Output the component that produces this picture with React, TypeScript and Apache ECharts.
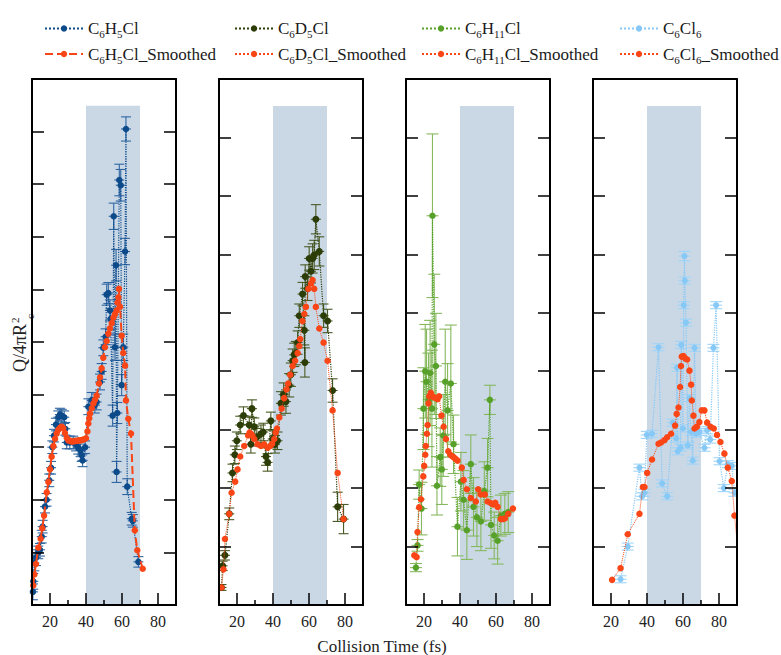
import React, { useEffect, useRef } from 'react';
import * as echarts from 'echarts';

const FONT = '"Liberation Serif", "Times New Roman", serif';

// ---------- tick labels / ranges ----------
const xTickLabels = [20, 40, 60, 80];
const xMinorTicks = [30, 50, 70];
const bandRange = [40, 70];

// ---------- series names ----------
const namesH5 = ['C6H5Cl', 'C6H5Cl_Smoothed'];
const namesD5 = ['C6D5Cl', 'C6D5Cl_Smoothed'];
const namesH11 = ['C6H11Cl', 'C6H11Cl_Smoothed'];
const namesCl6 = ['C6Cl6', 'C6Cl6_Smoothed'];

// ---------- data: [time, Q/4piRc^2, error] ----------
const h5 = [
  [10.5, 0.25, 0.15], [10.7, 0.45, 0.15], [11.3, 0.8, 0.15], [12.2, 0.9, 0.15], [13.5, 1.0, 0.12],
  [14.4, 1.05, 0.12], [15.4, 1.3, 0.12], [15.9, 1.49, 0.12], [17.2, 1.87, 0.12], [18.1, 2.0, 0.12],
  [19.6, 2.37, 0.12], [20.6, 2.61, 0.12], [21.3, 3.0, 0.12], [22.2, 3.22, 0.12], [23.3, 3.43, 0.12],
  [24.6, 3.57, 0.12], [25.5, 3.62, 0.12], [26.5, 3.6, 0.12], [27.9, 3.57, 0.12], [28.5, 3.35, 0.12],
  [29.3, 3.09, 0.12], [31.0, 3.09, 0.12], [32.9, 3.09, 0.12], [34.5, 3.05, 0.12], [35.7, 2.99, 0.12],
  [37.0, 2.94, 0.12], [37.6, 2.85, 0.12], [38.1, 2.75, 0.12], [39.5, 3.0, 0.12], [41.3, 3.77, 0.15],
  [43.2, 3.89, 0.15], [44.9, 3.8, 0.15], [45.9, 3.86, 0.15], [47.8, 4.24, 0.15], [48.7, 4.44, 0.15],
  [49.6, 4.89, 0.15], [50.9, 5.1, 0.15], [51.5, 5.9, 0.2], [52.4, 5.93, 0.2], [53.3, 5.6, 0.2],
  [53.7, 5.44, 0.2], [54.8, 3.6, 0.2], [55.4, 7.39, 0.25], [56.1, 4.9, 0.25], [56.7, 6.46, 0.3],
  [57.0, 2.53, 0.2], [57.4, 3.65, 0.2], [58.5, 8.08, 0.3], [59.3, 7.98, 0.3], [59.8, 4.18, 0.2],
  [60.7, 4.9, 0.25], [61.7, 6.72, 0.25], [62.2, 9.05, 0.23], [62.9, 2.25, 0.15], [65.4, 1.64, 0.12],
  [66.0, 1.6, 0.12], [69.1, 0.82, 0.1],
];
const h5Smoothed = [
  [10.7, 0.37], [11.3, 0.58], [12.2, 0.78], [13.5, 1.09], [14.8, 1.26], [15.7, 1.46], [16.7, 1.7],
  [18.2, 2.14], [19.1, 2.34], [20.0, 2.58], [20.9, 2.82], [21.9, 3.02], [22.8, 3.16], [23.7, 3.26],
  [24.6, 3.33], [25.6, 3.37], [26.5, 3.39], [27.4, 3.36], [28.3, 3.27], [29.3, 3.18], [30.2, 3.13],
  [31.1, 3.12], [32.0, 3.11], [33.0, 3.11], [34.0, 3.12], [35.0, 3.12], [36.0, 3.13], [37.0, 3.13],
  [38.0, 3.14], [39.0, 3.15], [40.0, 3.17], [40.8, 3.3], [41.3, 3.45], [41.8, 3.55], [42.2, 3.64],
  [43.2, 3.74], [44.1, 3.83], [45.0, 3.9], [45.9, 3.98], [47.2, 4.21], [47.8, 4.33], [48.7, 4.5],
  [49.6, 4.7], [50.5, 4.9], [51.5, 5.02], [52.4, 5.16], [53.3, 5.26], [54.3, 5.36], [55.2, 5.46],
  [56.1, 5.53], [57.0, 5.6], [57.5, 5.75], [58.0, 5.85], [58.3, 6.01], [58.9, 5.67], [59.8, 5.12],
  [60.7, 4.79], [61.7, 4.55], [62.2, 3.89], [63.5, 3.54], [65.0, 3.26], [67.1, 1.42], [68.5, 1.04],
  [71.5, 0.69],
];

const d5 = [
  [11.4, 0.3, 0.05], [12.0, 0.67, 0.08], [13.3, 0.85, 0.08], [15.7, 1.56, 0.1], [17.5, 2.26, 0.15],
  [18.8, 2.57, 0.15], [19.9, 2.81, 0.15], [21.8, 3.08, 0.15], [23.6, 3.24, 0.15], [26.8, 3.08, 0.15],
  [27.7, 2.75, 0.15], [28.3, 3.36, 0.15], [29.6, 3.05, 0.15], [31.0, 2.87, 0.15], [33.3, 2.93, 0.15],
  [34.6, 2.96, 0.15], [36.1, 2.54, 0.15], [37.0, 2.44, 0.15], [38.8, 3.15, 0.15], [39.8, 2.84, 0.15],
  [41.1, 2.75, 0.15], [42.5, 2.81, 0.15], [44.4, 3.45, 0.2], [45.9, 3.6, 0.2], [47.2, 3.48, 0.2],
  [49.0, 3.76, 0.2], [49.9, 3.94, 0.2], [50.9, 4.18, 0.2], [51.8, 4.28, 0.2], [52.7, 4.31, 0.2],
  [53.7, 4.49, 0.2], [54.6, 4.95, 0.2], [56.4, 5.32, 0.2], [57.4, 4.7, 0.25], [57.7, 4.15, 0.25],
  [57.9, 5.62, 0.2], [59.2, 5.41, 0.2], [60.1, 5.93, 0.2], [61.1, 5.71, 0.2], [62.0, 5.93, 0.25],
  [62.9, 5.99, 0.25], [63.8, 6.6, 0.25], [65.7, 6.05, 0.25], [68.1, 4.95, 0.2], [70.3, 4.86, 0.2],
  [73.1, 3.67, 0.2], [75.9, 1.68, 0.25], [79.2, 1.47, 0.25],
];
const d5Smoothed = [
  [11.4, 0.3], [12.5, 0.61], [13.3, 1.13], [15.7, 1.56], [17.0, 1.92], [19.0, 2.11], [20.3, 2.32],
  [21.8, 2.54], [24.0, 2.72], [26.2, 2.9], [27.0, 2.95], [27.7, 2.93], [28.5, 2.9], [29.6, 2.84],
  [31.4, 2.75], [33.3, 2.72], [35.1, 2.75], [37.0, 2.69], [38.5, 2.72], [39.5, 2.76], [40.7, 2.84],
  [41.5, 2.95], [42.2, 3.02], [43.5, 3.21], [44.8, 3.36], [46.2, 3.54], [47.5, 3.69], [48.4, 3.79],
  [49.6, 3.94], [50.9, 4.09], [52.3, 4.18], [53.7, 4.31], [54.6, 4.43], [55.1, 4.55], [56.4, 4.86],
  [57.4, 4.98], [58.3, 5.1], [59.6, 5.41], [61.1, 5.5], [62.0, 5.56], [62.9, 5.41], [63.8, 5.1],
  [65.7, 4.73], [68.1, 4.49], [70.3, 4.18], [73.1, 3.33], [75.9, 2.26], [79.2, 1.47],
];

const h11 = [
  [15.5, 0.64, 0.07], [16.4, 1.02, 0.1], [17.3, 2.06, 0.25], [18.6, 1.65, 0.45], [19.7, 3.36, 0.7],
  [20.7, 4.0, 0.8], [21.4, 3.82, 0.9], [22.5, 3.51, 0.8], [23.4, 3.97, 0.9], [24.4, 3.36, 1.0],
  [24.7, 6.66, 1.4], [25.7, 4.46, 1.2], [26.6, 4.09, 0.9], [27.2, 2.04, 0.5], [29.0, 2.53, 0.5],
  [29.9, 2.32, 0.6], [30.7, 2.9, 0.7], [31.8, 3.82, 0.9], [33.1, 3.33, 0.8], [34.9, 3.79, 1.0],
  [36.4, 2.75, 0.5], [38.6, 1.34, 0.5], [40.5, 2.11, 0.5], [42.0, 1.8, 0.5], [43.8, 1.28, 0.5],
  [46.0, 2.41, 0.5], [47.5, 1.68, 0.5], [49.4, 1.5, 0.5], [51.6, 1.43, 0.5], [53.5, 1.95, 0.5],
  [55.3, 2.35, 0.5], [56.6, 3.51, 0.25], [57.2, 1.37, 0.4], [59.0, 1.19, 0.4], [60.9, 1.1, 0.4],
  [62.7, 1.53, 0.35], [64.9, 1.56, 0.35], [66.8, 1.59, 0.35],
];
const h11Smoothed = [
  [14.6, 0.85], [15.9, 0.82], [16.4, 1.25], [17.3, 1.67], [18.3, 1.81], [19.6, 2.2], [20.1, 2.38],
  [20.7, 2.57], [21.0, 2.72], [21.6, 2.93], [22.0, 3.08], [22.5, 3.45], [22.9, 3.57], [23.8, 3.63],
  [24.7, 3.57], [25.6, 3.55], [26.6, 3.54], [27.5, 3.52], [28.4, 3.57], [29.7, 3.24], [30.9, 3.05],
  [32.2, 2.84], [33.5, 2.63], [34.6, 2.57], [35.5, 2.55], [36.4, 2.53], [37.5, 2.5], [38.6, 2.47],
  [41.0, 2.35], [42.0, 2.14], [43.8, 1.98], [46.0, 1.83], [48.8, 1.77], [50.1, 1.98], [51.6, 1.89],
  [53.8, 1.89], [55.3, 1.77], [57.2, 1.74], [58.5, 1.72], [59.6, 1.75], [60.9, 1.68], [62.7, 1.47],
  [63.8, 1.47], [64.9, 1.48], [66.8, 1.56], [69.4, 1.65],
];

const cl6 = [
  [25.3, 0.44, 0.06], [29.3, 1.0, 0.06], [35.8, 2.35, 0.06], [37.3, 1.86, 0.06], [38.6, 1.92, 0.06],
  [39.9, 2.91, 0.06], [42.8, 2.93, 0.06], [46.4, 4.41, 0.06], [48.4, 2.08, 0.06], [51.2, 1.86, 0.06],
  [54.3, 3.12, 0.06], [56.2, 2.85, 0.06], [56.7, 4.06, 0.06], [57.1, 2.63, 0.06], [58.6, 2.69, 0.06],
  [59.0, 4.45, 0.06], [59.9, 3.02, 0.06], [60.4, 5.13, 0.06], [60.8, 5.97, 0.08], [61.0, 5.55, 0.06],
  [61.7, 4.83, 0.06], [62.7, 2.73, 0.06], [63.6, 3.54, 0.06], [64.5, 2.96, 0.06], [65.4, 2.47, 0.06],
  [66.4, 4.4, 0.06], [67.3, 2.93, 0.06], [69.1, 2.96, 0.06], [71.9, 2.69, 0.06], [73.4, 2.99, 0.06],
  [75.1, 2.83, 0.06], [76.9, 4.4, 0.06], [78.4, 5.13, 0.06], [80.3, 2.46, 0.06], [82.7, 2.0, 0.06],
  [84.9, 2.41, 0.06], [87.1, 2.38, 0.06], [88.6, 1.92, 0.06],
];
const cl6Smoothed = [
  [20.6, 0.43], [25.3, 0.63], [29.3, 1.21], [35.8, 1.56], [37.7, 2.02], [38.6, 2.02], [40.1, 2.26],
  [42.8, 2.49], [46.4, 2.76], [47.8, 2.78], [49.7, 2.82], [51.2, 2.87], [53.4, 2.93], [55.6, 3.07],
  [56.5, 3.27], [57.5, 3.38], [58.4, 3.73], [58.9, 4.09], [59.3, 4.25], [60.3, 4.26], [61.2, 4.22],
  [62.3, 4.2], [63.6, 4.01], [64.5, 3.77], [64.9, 3.5], [65.8, 3.24], [66.4, 3.02], [67.7, 3.05],
  [69.1, 3.13], [70.4, 3.33], [71.9, 3.33], [73.4, 3.12], [75.3, 3.05], [77.1, 3.02], [78.9, 2.91],
  [80.8, 2.79], [83.0, 2.59], [84.9, 2.35], [87.1, 2.12], [88.6, 1.53], [91.0, 0.8],
];

// ---------- styles / layout ----------
const SMOOTH_COLOR = '#fa4616';
const panels = [
  { raw: h5, smooth: h5Smoothed, names: namesH5, color: '#0c4a8a', errColor: '#2f66a2', symbol: 'circle', size: 6.5, smoothType: 'dashed', smoothWidth: 2, yMax: 10, bandTop: 9.49, capPx: 5 },
  { raw: d5, smooth: d5Smoothed, names: namesD5, color: '#2c3d07', errColor: '#4a5a25', symbol: 'circle', size: 7, smoothType: 'dotted', smoothWidth: 1, yMax: 9, bandTop: 8.54, capPx: 5 },
  { raw: h11, smooth: h11Smoothed, names: namesH11, color: '#57a12b', errColor: '#86b95e', symbol: 'circle', size: 6.5, smoothType: 'dotted', smoothWidth: 1, yMax: 9, bandTop: 8.54, capPx: 6 },
  { raw: cl6, smooth: cl6Smoothed, names: namesCl6, color: '#86c8f6', errColor: '#9fd4f8', symbol: 'circle', size: 6, smoothType: 'dotted', smoothWidth: 1, yMax: 9, bandTop: 8.54, capPx: 6 },
];
const GRID_LEFTS = [32, 219, 406, 593];
const LEGEND_LEFTS = [39, 229, 416, 614];
const GRID_TOP = 79;
const GRID_W = 144;
const GRID_H = 526;

const fmtName = (name: string) =>
  name
    .split(/(\d+)/)
    .filter((p) => p.length > 0)
    .map((p) => (/^\d+$/.test(p) ? `{s|${p}}` : `{n|${p}}`))
    .join('');

function buildOption() {
  const grid: any[] = [];
  const xAxis: any[] = [];
  const yAxis: any[] = [];
  const series: any[] = [];
  const legend: any[] = [];

  panels.forEach((p, i) => {
    grid.push({ left: GRID_LEFTS[i], top: GRID_TOP, width: GRID_W, height: GRID_H, containLabel: false });
    const xi = xAxis.length;
    const yi = yAxis.length;
    xAxis.push({
      type: 'value', gridIndex: i, min: 10, max: 90, position: 'bottom', z: 10,
      axisLine: { show: true, onZero: false, lineStyle: { color: '#000', width: 2 } },
      axisTick: { show: true, inside: true, length: 12, customValues: xTickLabels, lineStyle: { color: '#000', width: 1.5 } },
      axisLabel: { show: true, customValues: xTickLabels, margin: 8, fontSize: 16, fontFamily: FONT, color: '#222' },
      splitLine: { show: false },
    });
    xAxis.push({
      type: 'value', gridIndex: i, min: 10, max: 90, position: 'bottom', z: 10,
      axisLine: { show: false, onZero: false },
      axisTick: { show: true, inside: true, length: 5, customValues: xMinorTicks, lineStyle: { color: '#000', width: 1.5 } },
      axisLabel: { show: false },
      splitLine: { show: false },
    });
    xAxis.push({
      type: 'value', gridIndex: i, min: 10, max: 90, position: 'top', z: 10,
      axisLine: { show: true, onZero: false, lineStyle: { color: '#000', width: 2 } },
      axisTick: { show: false }, axisLabel: { show: false }, splitLine: { show: false },
    });
    yAxis.push({
      type: 'value', gridIndex: i, min: 0, max: p.yMax, interval: 1, position: 'left', z: 10,
      axisLine: { show: true, onZero: false, lineStyle: { color: '#000', width: 2 } },
      axisTick: { show: true, inside: true, length: 12, lineStyle: { color: '#000', width: 1.5 } },
      axisLabel: { show: false }, splitLine: { show: false },
    });
    yAxis.push({
      type: 'value', gridIndex: i, min: 0, max: p.yMax, interval: 1, position: 'right', z: 10,
      axisLine: { show: true, onZero: false, lineStyle: { color: '#000', width: 2 } },
      axisTick: { show: true, inside: true, length: 12, lineStyle: { color: '#000', width: 1.5 } },
      axisLabel: { show: false }, splitLine: { show: false },
    });

    series.push({
      type: 'line', xAxisIndex: xi, yAxisIndex: yi, data: [], z: 1, silent: true,
      markArea: {
        silent: true,
        itemStyle: { color: '#cad8e6' },
        data: [[{ xAxis: bandRange[0], yAxis: 0 }, { xAxis: bandRange[1], yAxis: p.bandTop }]],
      },
    });

    const capPx = p.capPx;
    const errColor = p.errColor;
    series.push({
      type: 'custom', xAxisIndex: xi, yAxisIndex: yi, z: 2, silent: true, clip: true,
      data: p.raw,
      encode: { x: 0, y: 1 },
      renderItem: (_params: any, api: any) => {
        const x = api.value(0);
        const y = api.value(1);
        const e = api.value(2);
        const c = api.coord([x, y]);
        const t = api.coord([x, y + e]);
        const b = api.coord([x, y - e]);
        const style = { stroke: errColor, lineWidth: 1.1 };
        return {
          type: 'group',
          children: [
            { type: 'line', shape: { x1: c[0], y1: t[1], x2: c[0], y2: b[1] }, style },
            { type: 'line', shape: { x1: c[0] - capPx, y1: t[1], x2: c[0] + capPx, y2: t[1] }, style },
            { type: 'line', shape: { x1: c[0] - capPx, y1: b[1], x2: c[0] + capPx, y2: b[1] }, style },
            { type: 'line', shape: { x1: c[0] - capPx, y1: c[1], x2: c[0] + capPx, y2: c[1] }, style },
          ],
        };
      },
    });

    series.push({
      type: 'line', name: p.names[0], xAxisIndex: xi, yAxisIndex: yi, z: 3, clip: true,
      data: p.raw.map((d) => [d[0], d[1]]),
      symbol: p.symbol, symbolSize: p.size, showSymbol: true,
      itemStyle: { color: p.color },
      lineStyle: { color: p.color, width: 1.2, type: 'dotted' },
    });
    series.push({
      type: 'line', name: p.names[1], xAxisIndex: xi, yAxisIndex: yi, z: 4, clip: true,
      data: p.smooth,
      symbol: 'circle', symbolSize: 6.5, showSymbol: true,
      itemStyle: { color: SMOOTH_COLOR },
      lineStyle: { color: SMOOTH_COLOR, width: p.smoothWidth, type: p.smoothType },
    });

    legend.push({
      orient: 'vertical', left: LEGEND_LEFTS[i], top: 15,
      itemWidth: 38, itemHeight: 8, itemGap: 6, selectedMode: false,
      data: p.names,
      formatter: fmtName,
      textStyle: {
        fontSize: 17, fontFamily: FONT, color: '#1a1a1a',
        rich: {
          n: { fontSize: 17, fontFamily: FONT, color: '#1a1a1a', lineHeight: 22, verticalAlign: 'middle' },
          s: { fontSize: 11, fontFamily: FONT, color: '#1a1a1a', lineHeight: 10, verticalAlign: 'bottom' },
        },
      },
    });
  });

  return {
    animation: false,
    backgroundColor: '#ffffff',
    grid, xAxis, yAxis, series, legend,
    graphic: [
      {
        type: 'text', x: 382, y: 646,
        style: { text: 'Collision Time (fs)', fontSize: 17, fontFamily: FONT, fill: '#222', align: 'center', verticalAlign: 'middle' },
      },
      {
        type: 'group', x: 20, y: 344, rotation: Math.PI / 2,
        children: [
          { type: 'text', x: -28, y: 0, style: { text: 'Q/4πR', fontSize: 18, fontFamily: FONT, fill: '#222', align: 'left', verticalAlign: 'middle' } },
          { type: 'text', x: 21, y: -5, style: { text: '2', fontSize: 11, fontFamily: FONT, fill: '#222', align: 'left', verticalAlign: 'middle' } },
          { type: 'text', x: 25, y: 10, style: { text: 'c', fontSize: 11, fontFamily: FONT, fill: '#222', align: 'left', verticalAlign: 'middle' } },
        ],
      },
    ],
  };
}

export default function App() {
  const ref = useRef<HTMLDivElement>(null);
  useEffect(() => {
    if (!ref.current) return;
    const chart = echarts.init(ref.current, undefined, { renderer: 'svg' });
    chart.setOption(buildOption() as any);
    return () => chart.dispose();
  }, []);
  return (
    <div
      ref={ref}
      style={{ position: 'fixed', left: 0, top: 0, width: 781, height: 655, background: '#fff' }}
    />
  );
}
